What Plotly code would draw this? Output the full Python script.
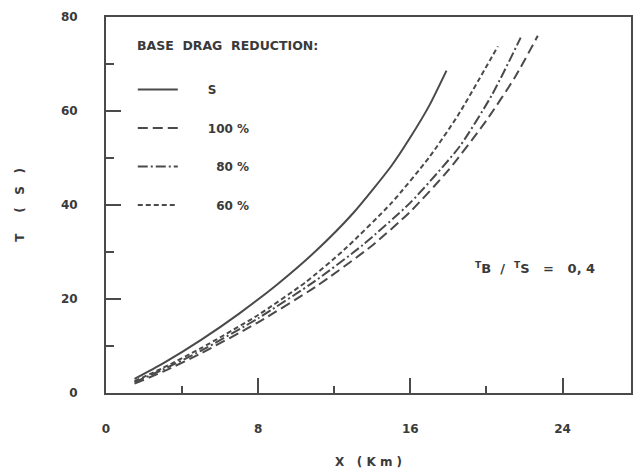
import plotly.graph_objects as go

# Data (X in km, T in s)
x_s = [1.5, 3, 5, 7, 9, 11, 13, 15, 16, 17, 17.9]
t_s = [3, 6.3, 11.3, 16.9, 23.1, 30.1, 38.3, 48.3, 54.4, 61.2, 68.6]

x_100 = [1.5, 3, 5, 8, 11, 14, 16, 18, 20, 21.5, 22.7]
t_100 = [2, 4.55, 8.45, 15.05, 22.55, 31.4, 38.6, 47.4, 58.0, 67.2, 76.0]

x_80 = [1.5, 3, 5, 8, 11, 13.5, 16, 18.6, 20.3, 21.8]
t_80 = [2.3, 5.0, 9.0, 15.9, 23.85, 31.5, 40.5, 52.5, 63.5, 75.6]

x_60 = [1.5, 3, 5, 8, 10.5, 12.5, 15, 17, 18.5, 20.6]
t_60 = [2.5, 5.35, 9.55, 16.6, 23.6, 30.4, 40.4, 50.2, 59.05, 73.75]

names = ["S", "100 %", "80 %", "60 %"]
x_ticks = [0, 8, 16, 24]
y_ticks = [0, 20, 40, 60, 80]

LINE = "#4a4a4a"
TEXT = "#3a3a3a"
FONT = "DejaVu Sans"

series = [
    (x_s, t_s, names[0], "solid", "      "),
    (x_100, t_100, names[1], "10px,5px", "      "),
    (x_80, t_80, names[2], "10px,3px,2px,3px", "        "),
    (x_60, t_60, names[3], "5px,3px", "        "),
]

fig = go.Figure()
for i, (xs, ts, nm, dash, pad) in enumerate(series):
    fig.add_trace(go.Scatter(
        x=xs, y=ts, mode="lines", name=pad + nm, legendgroup=str(i),
        line=dict(color=LINE, width=2, dash=dash, shape="spline", smoothing=0.6),
    ))

fig.add_annotation(
    x=0.055, y=0.9255, xref="paper", yref="paper", xanchor="left", yanchor="middle",
    text="BASE  DRAG  REDUCTION:", showarrow=False,
    font=dict(family=FONT, size=12.5, color=TEXT, weight="bold"),
)

fig.add_annotation(
    x=19.3, y=26.7, xref="x", yref="y", xanchor="left", yanchor="middle",
    text="<sup>T</sup>B  /  <sup>T</sup>S   =   0, 4", showarrow=False,
    font=dict(family=FONT, size=13, color=TEXT, weight="bold"),
)

fig.update_layout(
    width=637, height=472,
    margin=dict(l=106, r=4, t=17, b=79),
    paper_bgcolor="white", plot_bgcolor="white",
    font=dict(family=FONT, color=TEXT),
    showlegend=True,
    legend=dict(
        x=0.051, y=0.846, xanchor="left", yanchor="top",
        bgcolor="rgba(0,0,0,0)", borderwidth=0,
        font=dict(family=FONT, size=12, color=TEXT, weight="bold"),
        tracegroupgap=19.5,
        itemwidth=40,
    ),
    xaxis=dict(
        range=[0, 27.6], tickvals=x_ticks, ticktext=[str(v) for v in x_ticks],
        ticks="inside", ticklen=15, tickwidth=2, tickcolor=LINE,
        minor=dict(ticks="inside", ticklen=7, tickwidth=2, tickcolor=LINE, dtick=4, tick0=0),
        showline=True, linewidth=2, linecolor=LINE, mirror=True,
        showgrid=False, zeroline=False,
        ticklabelstandoff=24,
        tickfont=dict(family=FONT, size=12, color=TEXT, weight="bold"),
        title=dict(text="X   ( K m )", standoff=22,
                   font=dict(family=FONT, size=12, color=TEXT, weight="bold")),
    ),
    yaxis=dict(
        range=[0, 80], tickvals=y_ticks, ticktext=[str(v) for v in y_ticks],
        ticks="inside", ticklen=15, tickwidth=2, tickcolor=LINE,
        minor=dict(ticks="inside", ticklen=8, tickwidth=2, tickcolor=LINE, dtick=10, tick0=0),
        showline=True, linewidth=2, linecolor=LINE, mirror=True,
        showgrid=False, zeroline=False,
        ticklabelstandoff=24,
        tickfont=dict(family=FONT, size=12, color=TEXT, weight="bold"),
        title=dict(text="T     (   S   )", standoff=34,
                   font=dict(family=FONT, size=12, color=TEXT, weight="bold")),
    ),
)

fig.write_html("out.html")
